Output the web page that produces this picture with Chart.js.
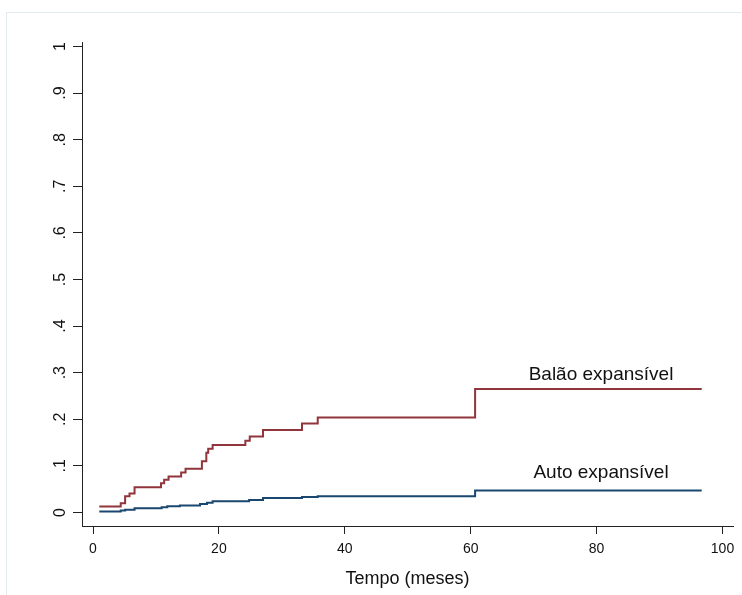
<!DOCTYPE html>
<html>
<head>
<meta charset="utf-8">
<script src="https://cdn.jsdelivr.net/npm/chart.js@4.4.0/dist/chart.umd.min.js"></script>
<style>
  html, body { margin: 0; padding: 0; background: #fff; }
  #wrap { width: 742px; height: 595px; position: relative; }
</style>
</head>
<body>
<div id="wrap"><canvas id="c" width="742" height="595"></canvas></div>
<script>
// ---- data ----
const balaoTimes  = [1, 4.4, 5.1, 5.8, 6.6, 10.8, 11.3, 12.0, 14.0, 14.7, 17.3, 18.0, 18.3, 19.0, 24.2, 24.9, 27.0, 33.2, 35.7, 60.7, 96.7];
const balaoValues = [0.013, 0.020, 0.035, 0.041, 0.054, 0.063, 0.070, 0.077, 0.086, 0.094, 0.110, 0.128, 0.137, 0.145, 0.154, 0.163, 0.177, 0.191, 0.204, 0.265, 0.265];
const autoTimes   = [1, 4.4, 5.1, 6.6, 10.9, 11.8, 13.8, 17.0, 18.1, 19.0, 24.8, 27.0, 33.2, 35.7, 60.7, 96.7];
const autoValues  = [0.002, 0.004, 0.006, 0.009, 0.011, 0.0135, 0.015, 0.018, 0.021, 0.024, 0.027, 0.031, 0.033, 0.035, 0.047, 0.047];
const seriesNames = ["Balão expansível", "Auto expansível"];
const xTickValues = [0, 20, 40, 60, 80, 100];
const yTickValues = [0, 0.1, 0.2, 0.3, 0.4, 0.5, 0.6, 0.7, 0.8, 0.9, 1];
const yTickLabels = ["0", ".1", ".2", ".3", ".4", ".5", ".6", ".7", ".8", ".9", "1"];
const xTitle = "Tempo (meses)";

const toPoints = (ts, vs) => ts.map((t, i) => ({ x: t, y: vs[i] }));

const FONT = "'Liberation Sans', Arial, sans-serif";
const RED = '#90353b';
const BLUE = '#1a476f';

const framePlugin = {
  id: 'frame',
  beforeDraw(chart) {
    const ctx = chart.ctx;
    ctx.save();
    ctx.strokeStyle = '#e3ebef';
    ctx.lineWidth = 1;
    ctx.strokeRect(6.5, 12.5, 760, 620);
    ctx.restore();
  }
};

const seriesLabelPlugin = {
  id: 'seriesLabels',
  afterDatasetsDraw(chart, args, opts) {
    const ctx = chart.ctx;
    const xs = chart.scales.x, ys = chart.scales.y;
    ctx.save();
    ctx.font = '19px ' + FONT;
    ctx.fillStyle = '#111';
    ctx.textAlign = 'center';
    ctx.textBaseline = 'alphabetic';
    opts.items.forEach(it => {
      ctx.fillText(it.text, xs.getPixelForValue(it.x), ys.getPixelForValue(it.y));
    });
    ctx.restore();
  }
};

new Chart(document.getElementById('c'), {
  type: 'line',
  data: {
    datasets: [
      { label: seriesNames[0], data: toPoints(balaoTimes, balaoValues), borderColor: RED, borderWidth: 2, stepped: true, pointRadius: 0, fill: false },
      { label: seriesNames[1], data: toPoints(autoTimes, autoValues), borderColor: BLUE, borderWidth: 2, stepped: true, pointRadius: 0, fill: false }
    ]
  },
  options: {
    responsive: false,
    animation: false,
    layout: { padding: { left: 0, top: 42, right: 9, bottom: 0 } },
    plugins: {
      legend: { display: false },
      tooltip: { enabled: false },
      seriesLabels: {
        items: [
          { text: seriesNames[0], x: 80.7, y: 0.284 },
          { text: seriesNames[1], x: 80.7, y: 0.074 }
        ]
      }
    },
    scales: {
      x: {
        type: 'linear',
        min: -1.75,
        max: 101.67,
        afterBuildTicks: s => { s.ticks = xTickValues.map(v => ({ value: v })); },
        afterFit: s => { s.height = 69; },
        grid: { drawOnChartArea: false, drawTicks: true, tickLength: 8, tickColor: '#222', tickWidth: 1 },
        border: { display: true, color: '#222', width: 1 },
        ticks: { autoSkip: false, maxRotation: 0, padding: 7, color: '#111', font: { family: FONT, size: 14 }, callback: v => String(v) },
        title: { display: true, text: xTitle, color: '#111', font: { family: FONT, size: 18 }, padding: { top: 0, bottom: 5 } }
      },
      y: {
        type: 'linear',
        min: -0.029,
        max: 1.0097,
        afterBuildTicks: s => { s.ticks = yTickValues.map(v => ({ value: v })); },
        afterFit: s => { s.width = 82; },
        grid: { drawOnChartArea: false, drawTicks: true, tickLength: 9, tickColor: '#222', tickWidth: 1 },
        border: { display: true, color: '#222', width: 1 },
        ticks: {
          autoSkip: false, minRotation: 90, maxRotation: 90, crossAlign: 'center', padding: 6,
          color: '#111', font: { family: FONT, size: 16 },
          callback: (v) => { const i = yTickValues.findIndex(t => Math.abs(t - v) < 1e-9); return i >= 0 ? yTickLabels[i] : ''; }
        }
      }
    }
  },
  plugins: [framePlugin, seriesLabelPlugin]
});
</script>
</body>
</html>
